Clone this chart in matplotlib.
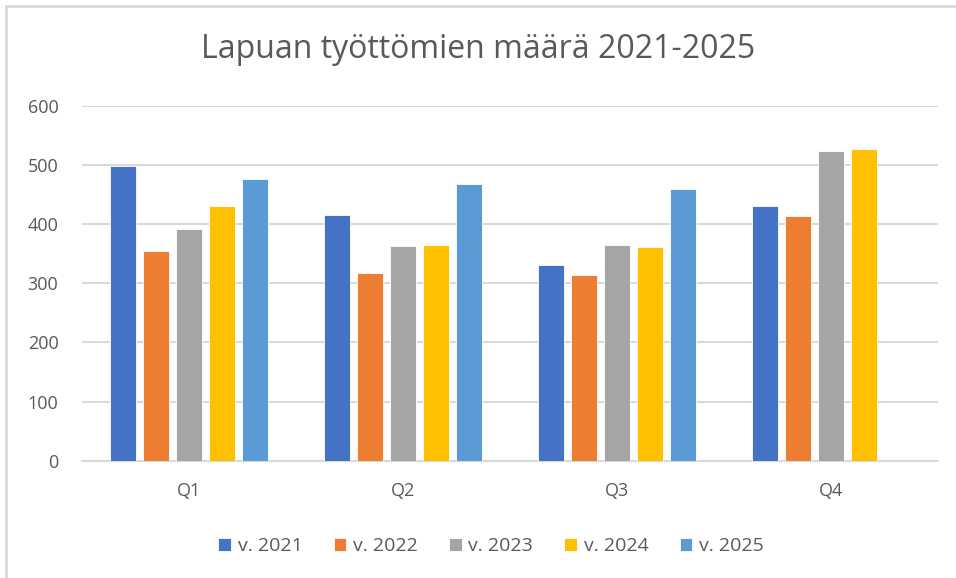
import matplotlib.pyplot as plt
import numpy as np

# Lapuan työttömien määrä neljännesvuosittain
quarters = ["Q1", "Q2", "Q3", "Q4"]
years = ["v. 2021", "v. 2022", "v. 2023", "v. 2024", "v. 2025"]
v2021 = [498, 415, 331, 430]
v2022 = [354, 317, 314, 413]
v2023 = [391, 363, 365, 523]
v2024 = [430, 365, 361, 526]
v2025 = [476, 467, 459, np.nan]
colors = ["#4472C4", "#ED7D31", "#A5A5A5", "#FFC000", "#5B9BD5"]

plt.rcParams['font.family'] = ['Open Sans', 'DejaVu Sans']

W, H = 956, 578
fig = plt.figure(figsize=(W / 100, H / 100), dpi=100)
ax = fig.add_axes([82 / W, 1 - 460.7 / H, (938 - 82) / W, (460.7 - 105.7) / H])

series = [v2021, v2022, v2023, v2024, v2025]
x = np.arange(len(quarters))
pitch = 33 / 214
width = 26 / 214
for i, (vals, lab, col) in enumerate(zip(series, years, colors)):
    ax.bar(x + (i - 2) * pitch, vals, width, color=col, label=lab,
           edgecolor="white", linewidth=0.6, zorder=3)

ax.set_xlim(-0.5, 3.5)
ax.set_ylim(0, 600)
ax.set_yticks(range(0, 601, 100))
ax.set_xticks(x)
ax.set_xticklabels(quarters)
ax.grid(axis="y", color="#D9D9D9", linewidth=1.5, zorder=0)
for s in ["top", "right", "left"]:
    ax.spines[s].set_visible(False)
ax.spines["bottom"].set_color("#D9D9D9")
ax.spines["bottom"].set_linewidth(1.5)
ax.tick_params(axis="both", length=0, labelsize=13, labelcolor="#595959")
ax.tick_params(axis="y", pad=17)
ax.tick_params(axis="x", pad=15)

fig.text(0.5, 1 - 50 / H, "Lapuan työttömien määrä 2021-2025",
         ha="center", va="center", fontsize=23, color="#595959")

leg = fig.legend(loc="center", bbox_to_anchor=(491 / W, 1 - 546 / H), ncol=5,
                 frameon=False, fontsize=14, handlelength=0.65, handleheight=0.65,
                 handletextpad=0.35, columnspacing=1.6)
for t in leg.get_texts():
    t.set_color("#595959")

# kehys vasemmalla ja ylhäällä
fig.add_artist(plt.Line2D([6 / W, 6 / W], [0, 1 - 6 / H], transform=fig.transFigure,
                          color="#D9D9D9", linewidth=2))
fig.add_artist(plt.Line2D([6 / W, 1], [1 - 6 / H, 1 - 6 / H], transform=fig.transFigure,
                          color="#D9D9D9", linewidth=2))

plt.savefig("out.png", dpi=100)
plt.close()
